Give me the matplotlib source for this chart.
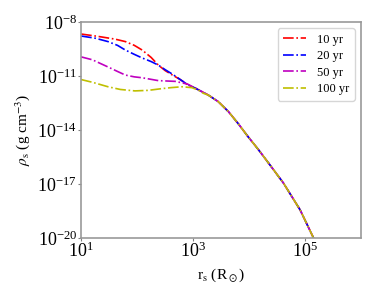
import numpy as np
import matplotlib
matplotlib.use('Agg')
import matplotlib.pyplot as plt

plt.rcParams['font.family'] = ['Liberation Serif', 'DejaVu Serif']
plt.rcParams['mathtext.fontset'] = 'stix'

# log10(r_s / R_sun) and log10(rho_s / g cm^-3)
# inner parts of the profiles (differ with age)
logr_10 = [1.0, 1.3, 1.6, 1.79, 1.95, 2.09, 2.25, 2.38, 2.5, 2.63, 2.77, 2.91, 3.04]
logrho_10 = [-8.67, -8.8, -8.95, -9.09, -9.3, -9.56, -9.97, -10.4, -10.7, -10.95, -11.2, -11.5, -11.68]

logr_20 = [1.0, 1.25, 1.48, 1.65, 1.79, 1.95, 2.09, 2.25, 2.38, 2.5, 2.63, 2.77, 2.91, 3.04]
logrho_20 = [-8.78, -8.9, -9.09, -9.3, -9.56, -9.8, -10.0, -10.2, -10.4, -10.65, -10.9, -11.2, -11.5, -11.68]

logr_50 = [1.0, 1.2, 1.48, 1.65, 1.79, 1.95, 2.09, 2.38, 2.68, 2.9, 3.04]
logrho_50 = [-9.94, -10.1, -10.5, -10.75, -10.95, -11.05, -11.1, -11.26, -11.3, -11.45, -11.68]

logr_100 = [1.0, 1.2, 1.48, 1.7, 1.96, 2.2, 2.4, 2.6, 2.8, 2.98, 3.1, 3.18]
logrho_100 = [-11.2, -11.35, -11.6, -11.75, -11.83, -11.8, -11.72, -11.65, -11.6, -11.65, -11.8, -11.96]

# common outer part
logr_tail = [3.04, 3.27, 3.45, 3.63, 3.80, 3.98, 4.16, 4.32, 4.61, 4.91, 5.14, 5.2]
logrho_tail = [-11.68, -12.06, -12.43, -12.98, -13.63, -14.37, -15.07, -15.73, -16.94, -18.44, -19.94, -20.4]

labels = ['10 yr', '20 yr', '50 yr', '100 yr']
colors = ['r', 'b', 'm', 'y']

profiles = [(logr_10, logrho_10), (logr_20, logrho_20),
            (logr_50, logrho_50), (logr_100, logrho_100)]

fig = plt.figure(figsize=(3.9, 2.93), dpi=100)
ax = fig.add_axes([0.208, 0.188, 0.718, 0.737])

for (lr, lrho), lab, c in zip(profiles, labels, colors):
    # join inner profile to the shared tail
    tail_start = [i for i, v in enumerate(logr_tail) if v > lr[-1]]
    x = np.array(lr + [logr_tail[i] for i in tail_start])
    y = np.array(lrho + [logrho_tail[i] for i in tail_start])
    ax.plot(10**x, 10**y, ls='-.', color=c, lw=1.2, label=lab)

ax.set_xscale('log')
ax.set_yscale('log')
ax.set_xlim(1e1, 1e6)
ax.set_ylim(1e-20, 1e-8)
ax.set_xticks([1e1, 1e3, 1e5])
ax.set_yticks([1e-8, 1e-11, 1e-14, 1e-17, 1e-20])
ax.minorticks_off()
ax.tick_params(labelsize=13, length=2, width=0.8, color='gray', pad=1)

for sp in ax.spines.values():
    sp.set_color('#999999')
    sp.set_linewidth(1.2)

ax.set_xlabel(r'r$_{\rm s}$ (R$_\odot$)', fontsize=11)
ax.set_ylabel(r'$\rho_{\rm s}$ (g cm$^{-3}$)', fontsize=11)

ax.legend(loc='upper right', fontsize=9, handlelength=1.8, frameon=True,
          borderpad=0.45, labelspacing=0.35, handletextpad=0.9)

fig.savefig('out.png', dpi=100)
